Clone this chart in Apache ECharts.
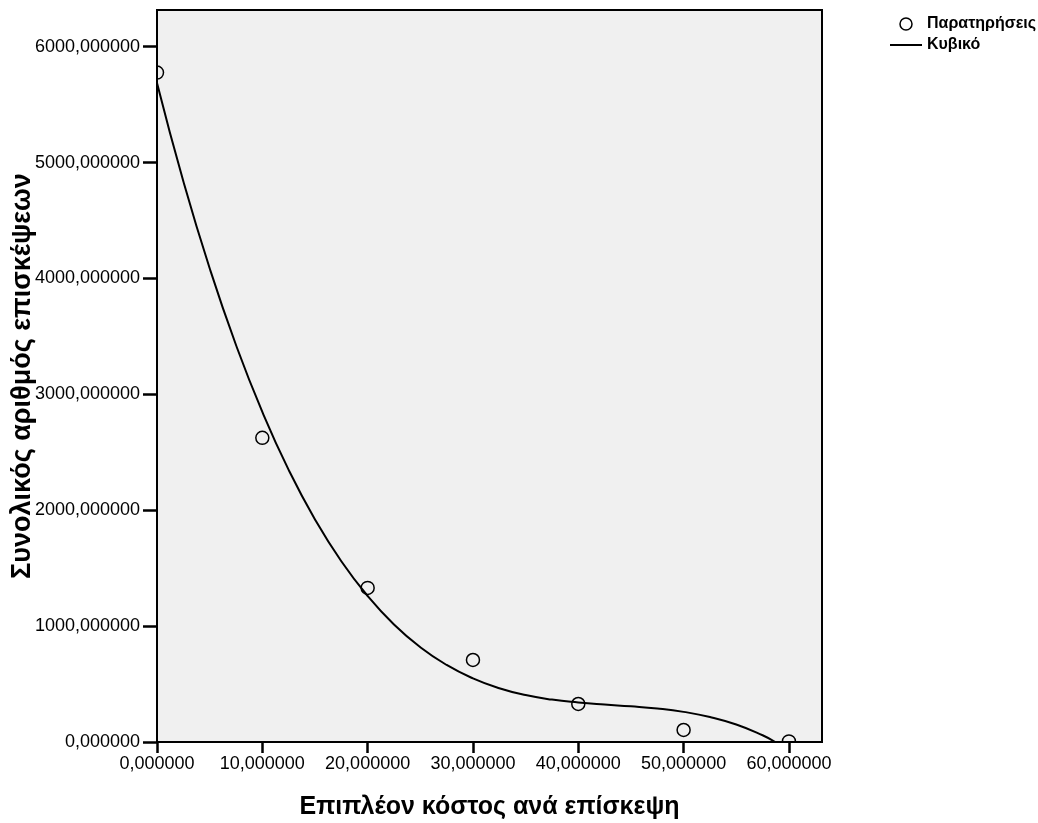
<!DOCTYPE html>
<html>
<head>
<meta charset="utf-8">
<script src="https://cdn.jsdelivr.net/npm/echarts@6/dist/echarts.min.js"></script>
<style>
  html, body { margin: 0; padding: 0; background: #fff; }
  #chart { width: 1038px; height: 823px; }
</style>
</head>
<body>
<div id="chart"></div>
<script>
// Observed values: extra cost per visit vs. total number of visits
const obsX = [0, 10, 20, 30, 40, 50, 60];
const obsY = [5777, 2625, 1330, 708, 328, 104, 5];

// Cubic fit line, sampled along the curve
const curveX = [0, 2.5, 5, 7.5, 10, 12.5, 15, 17.5, 20, 22.5, 25, 27.5, 30, 32.5, 35, 37.5, 40, 42.5, 45, 47.5, 50, 52.5, 55, 57.5, 58.7];
const curveY = [5688, 4840, 4088, 3426, 2848, 2348, 1921, 1560, 1260, 1014, 818, 665, 549, 464, 405, 366, 341, 323, 308, 289, 260, 216, 151, 58, 0];

const xTicks = { min: 0, max: 63.14, interval: 10 };
const yTicks = { min: 0, max: 6317, interval: 1000 };

const FONT = "'Liberation Sans', Arial, sans-serif";
const fmt = v => v.toFixed(6).replace('.', ',');

const chart = echarts.init(document.getElementById('chart'));
chart.setOption({
  animation: false,
  backgroundColor: '#ffffff',
  textStyle: { fontFamily: FONT },
  grid: {
    left: 157, top: 10, right: 216, bottom: 81,
    outerBoundsMode: 'none', containLabel: false,
    show: true, backgroundColor: '#f0f0f0',
    borderColor: '#000', borderWidth: 2
  },
  legend: {
    orient: 'vertical',
    left: 889, top: 16, padding: 0,
    itemWidth: 32, itemHeight: 12, itemGap: 5,
    textStyle: { fontFamily: FONT, fontWeight: 'bold', fontSize: 16, color: '#000' },
    data: [
      { name: 'Παρατηρήσεις', icon: 'circle',
        itemStyle: { color: '#fff', borderColor: '#000', borderWidth: 1.5 } },
      { name: 'Κυβικό', itemStyle: { opacity: 0 } }
    ]
  },
  xAxis: {
    type: 'value',
    min: xTicks.min, max: xTicks.max, interval: xTicks.interval,
    name: 'Επιπλέον κόστος ανά επίσκεψη',
    nameLocation: 'middle', nameGap: 53, nameMoveOverlap: false,
    nameTextStyle: { fontFamily: FONT, fontWeight: 'bold', fontSize: 25, color: '#000' },
    axisLine: { show: true, lineStyle: { color: '#000', width: 2 } },
    axisTick: { show: true, length: 11, lineStyle: { color: '#000', width: 2.5 } },
    axisLabel: { formatter: fmt, fontSize: 18, color: '#000', margin: 13, showMaxLabel: false },
    splitLine: { show: false }
  },
  yAxis: {
    type: 'value',
    min: yTicks.min, max: yTicks.max, interval: yTicks.interval,
    name: 'Συνολικός αριθμός επισκέψεων',
    nameLocation: 'middle', nameGap: 121, nameRotate: 90, nameMoveOverlap: false,
    nameTextStyle: { fontFamily: FONT, fontWeight: 'bold', fontSize: 27, color: '#000' },
    axisLine: { show: true, lineStyle: { color: '#000', width: 2 } },
    axisTick: { show: true, length: 14, lineStyle: { color: '#000', width: 2.5 } },
    axisLabel: { formatter: fmt, fontSize: 18, color: '#000', margin: 17, showMaxLabel: false },
    splitLine: { show: false }
  },
  series: [
    {
      name: 'Παρατηρήσεις',
      type: 'custom',
      clip: true,
      data: obsX.map((x, i) => [x, obsY[i]]),
      encode: { x: 0, y: 1 },
      renderItem: (params, api) => {
        const p = api.coord([api.value(0), api.value(1)]);
        return {
          type: 'circle',
          shape: { cx: p[0], cy: p[1], r: 6.5 },
          style: { fill: 'none', stroke: '#000', lineWidth: 1.5 }
        };
      },
      z: 3
    },
    {
      name: 'Κυβικό',
      type: 'line',
      smooth: true,
      symbol: 'none',
      clip: true,
      data: curveX.map((x, i) => [x, curveY[i]]),
      lineStyle: { color: '#000', width: 2 },
      itemStyle: { color: '#000' },
      z: 2
    }
  ]
});
</script>
</body>
</html>
